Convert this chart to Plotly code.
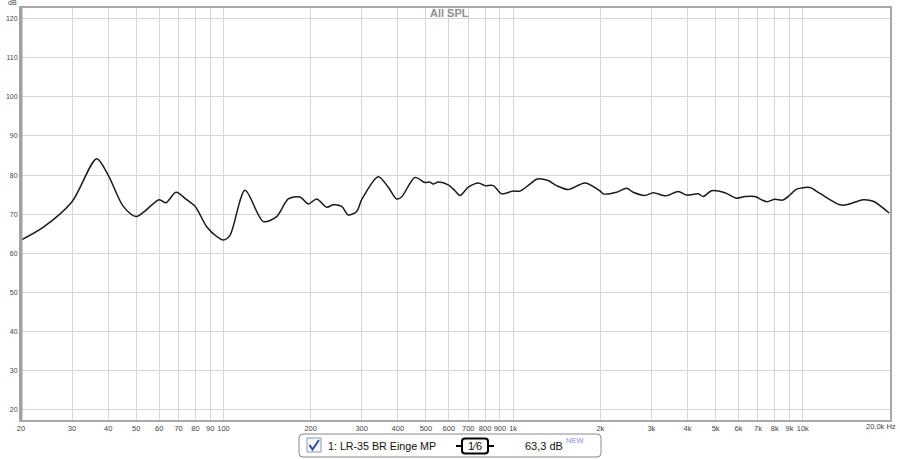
import plotly.graph_objects as go

# ---- data ----
freq = [20, 23.9, 30, 36.5, 40, 45.1, 50, 60, 63.3, 68.6, 74.6, 80, 87.5, 94.8, 100, 105.3,
        118.7, 137.3, 152.6, 167.4, 183.8, 196.2, 209.9, 227.1, 239.4, 256, 269.7, 288.3, 300,
        342.2, 370.6, 396, 412, 458, 496, 516, 530, 551, 597, 630, 655, 700, 758, 800, 854, 913,
        1000, 1056, 1143, 1211, 1321, 1413, 1549, 1770, 2000, 2047, 2276, 2465, 2598, 2851, 3045,
        3367, 3716, 3971, 4357, 4531, 4842, 5383, 5907, 6311, 6834, 7500, 8011, 8518, 9029, 9521,
        10582, 11460, 13430, 14160, 16170, 17500, 19870]
spl = [63.4, 66.7, 73.2, 84.2, 80.0, 72.0, 69.4, 73.7, 72.9, 75.6, 73.7, 71.9, 66.8, 64.3, 63.4, 64.6,
       76.1, 68.1, 69.4, 73.9, 74.4, 72.6, 73.9, 71.8, 72.4, 72.0, 69.8, 70.7, 73.7,
       79.6, 76.9, 73.9, 74.4, 79.4, 78.1, 78.2, 77.7, 78.2, 77.5, 76.0, 74.8, 76.9, 78.0, 77.3, 77.3, 75.2,
       75.9, 75.9, 77.7, 79.0, 78.6, 77.3, 76.3, 78.0, 75.9, 75.2, 75.6, 76.6, 75.6, 74.8, 75.5,
       74.7, 75.8, 74.9, 75.2, 74.5, 76.0, 75.5, 74.1, 74.5, 74.5, 73.2, 73.8, 73.6, 74.9, 76.4,
       76.8, 75.3, 72.4, 72.4, 73.7, 73.3, 70.3]

x_tickvals = [20, 30, 40, 50, 60, 70, 80, 90, 100, 200, 300, 400, 500, 600, 700, 800, 900, 1000,
              2000, 3000, 4000, 5000, 6000, 7000, 8000, 9000, 10000, 20000]
x_ticktext = ["20", "30", "40", "50", "60", "70", "80", "90", "100", "200", "300", "400", "500",
              "600", "700", "800", "900", "1k", "2k", "3k", "4k", "5k", "6k", "7k", "8k", "9k",
              "10k", ""]
y_tickvals = [20, 30, 40, 50, 60, 70, 80, 90, 100, 110, 120]

# ---- layout geometry (pixels) ----
W, H = 900, 459
L, R, T, B = 21, 890, 8, 420


def px(x):
    return (x - L) / (R - L)


def py(y):
    return (B - y) / (B - T)


fig = go.Figure()
fig.add_trace(go.Scatter(x=freq, y=spl, mode="lines",
                         line=dict(color="#1a1a1a", width=1.5, shape="spline", smoothing=0.8),
                         hoverinfo="x+y", showlegend=False))

fig.update_layout(
    width=W, height=H,
    margin=dict(l=L, r=W - R, t=T, b=H - B, autoexpand=False),
    paper_bgcolor="white", plot_bgcolor="white",
    font=dict(family="Arial, Liberation Sans, sans-serif", color="#444", size=8),
    xaxis=dict(type="log", range=[1.30103, 4.30103], tickvals=x_tickvals, ticktext=x_ticktext,
               showgrid=True, gridcolor="#d6d6d6", gridwidth=1, zeroline=False,
               showline=True, linecolor="#a8a8a8", linewidth=2, mirror=True,
               ticks="", ticklen=0, automargin=False, tickfont=dict(size=7.5, color="#444")),
    yaxis=dict(range=[17.4, 122.7], tickvals=y_tickvals,
               showgrid=True, gridcolor="#d6d6d6", gridwidth=1, zeroline=False,
               showline=True, linecolor="#a8a8a8", linewidth=2, mirror=True,
               ticks="", ticklen=0, automargin=False, tickfont=dict(size=7, color="#444")),
)

shapes = []
ann = []

# thicker left axis line
shapes.append(dict(type="line", xref="paper", yref="paper", x0=px(21), x1=px(21), y0=0, y1=1,
                   line=dict(color="#a0a0a0", width=3)))

# title and labels
ann.append(dict(text="<b>All SPL</b>", x=px(449), y=py(13), xref="paper", yref="paper",
                showarrow=False, font=dict(size=11, color="#909090"), xanchor="center", yanchor="middle"))
ann.append(dict(text="dB", x=px(12), y=py(3), xref="paper", yref="paper",
                showarrow=False, font=dict(size=7, color="#444"), xanchor="center", yanchor="middle"))
ann.append(dict(text="20,0k Hz", x=px(898), y=py(426), xref="paper", yref="paper",
                showarrow=False, font=dict(size=7.5, color="#444"), xanchor="right", yanchor="middle"))

# legend box (rounded)
x0, x1, y0, y1, r = 299, 601, 434, 457, 4


def rr(x0, x1, y0, y1, r):
    return (f"M {px(x0 + r)} {py(y0)} L {px(x1 - r)} {py(y0)} "
            f"Q {px(x1)} {py(y0)} {px(x1)} {py(y0 + r)} L {px(x1)} {py(y1 - r)} "
            f"Q {px(x1)} {py(y1)} {px(x1 - r)} {py(y1)} L {px(x0 + r)} {py(y1)} "
            f"Q {px(x0)} {py(y1)} {px(x0)} {py(y1 - r)} L {px(x0)} {py(y0 + r)} "
            f"Q {px(x0)} {py(y0)} {px(x0 + r)} {py(y0)} Z")


shapes.append(dict(type="path", xref="paper", yref="paper", path=rr(x0, x1, y0, y1, r),
                   line=dict(color="#888888", width=1), fillcolor="white"))
# checkbox
shapes.append(dict(type="rect", xref="paper", yref="paper", x0=px(307), x1=px(321), y0=py(438), y1=py(452),
                   line=dict(color="#8a9ab0", width=1), fillcolor="#f4f6fa"))
shapes.append(dict(type="path", xref="paper", yref="paper",
                   path=f"M {px(309.5)} {py(445)} L {px(312.5)} {py(449.5)} L {px(319)} {py(440)}",
                   line=dict(color="#2a4f9e", width=2)))
ann.append(dict(text="1: LR-35 BR Einge MP", x=px(326), y=py(446), xref="paper", yref="paper",
                showarrow=False, font=dict(size=10.7, color="#111"), xanchor="left", yanchor="middle"))
# smoothing symbol
shapes.append(dict(type="path", xref="paper", yref="paper", path=rr(462, 488, 438.5, 453.5, 3),
                   line=dict(color="#000", width=2), fillcolor="white"))
shapes.append(dict(type="line", xref="paper", yref="paper", x0=px(456), x1=px(462), y0=py(446), y1=py(446),
                   line=dict(color="#000", width=2)))
shapes.append(dict(type="line", xref="paper", yref="paper", x0=px(488), x1=px(494), y0=py(446), y1=py(446),
                   line=dict(color="#000", width=2)))
ann.append(dict(text="1⁄6", x=px(475), y=py(446), xref="paper", yref="paper",
                showarrow=False, font=dict(size=11, color="#111"), xanchor="center", yanchor="middle"))
ann.append(dict(text="63,3 dB", x=px(523), y=py(446), xref="paper", yref="paper",
                showarrow=False, font=dict(size=11, color="#111"), xanchor="left", yanchor="middle"))
ann.append(dict(text="NEW", x=px(564), y=py(440), xref="paper", yref="paper",
                showarrow=False, font=dict(size=7.5, color="#8c8ce0"), xanchor="left", yanchor="middle"))

fig.update_layout(shapes=shapes, annotations=ann)

fig.write_html("out.html",
               config={"displayModeBar": False},
               post_script="document.body.style.margin='0';document.body.style.padding='0';")
